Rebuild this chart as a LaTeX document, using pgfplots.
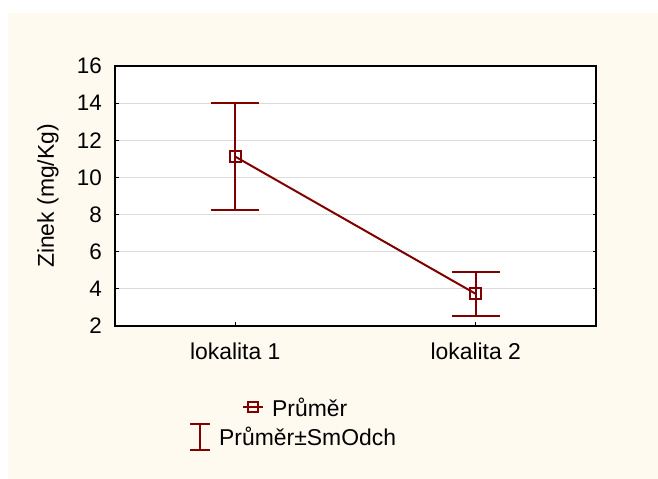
\documentclass[border=0pt]{standalone}
\usepackage{fontspec}
\setmainfont{Liberation Sans}
\usepackage{pgfplots}
\pgfplotsset{compat=1.18}
\definecolor{cream}{HTML}{FFFAF0}
\definecolor{serie}{HTML}{800000}
\definecolor{mrizka}{HTML}{DCDCDC}

\begin{document}
\begin{tikzpicture}[font=\fontsize{23}{27}\selectfont]
% plocha obrazku
\useasboundingbox (0,0) rectangle (658bp,479bp);
\fill[white] (0,0) rectangle (658bp,479bp);
\fill[cream] (8bp,0) rectangle (658bp,466bp);

\begin{axis}[
    at={(115bp,153bp)}, anchor=south west,
    scale only axis,
    width=481bp, height=260bp,
    axis background/.style={fill=white},
    axis line style={line width=2bp, black},
    xmin=0.5, xmax=2.5,
    ymin=2, ymax=16,
    xtick={1,2},
    xticklabels={lokalita 1, lokalita 2},
    ytick={2,4,...,16},
    xtick pos=left,
    tick align=inside,
    major tick length=3.5bp,
    every tick/.style={black, line width=1.2bp},
    ymajorgrids,
    major grid style={mrizka, line width=0.9bp},
    /pgf/number format/assume math mode=true,
    yticklabel style={anchor=east, inner sep=0pt, xshift=-13bp,
        font=\fontsize{22.5}{27}\selectfont},
    xticklabel style={anchor=north, inner sep=0pt, yshift=-17bp},
    ylabel={Zinek (mg/Kg)},
    every axis y label/.style={at={(axis description cs:0,0.5)}, rotate=90,
        anchor=center, yshift=67bp},
]
\addplot[
    serie, line width=2bp,
    mark=square, mark size=5.5bp,
    mark options={solid, line width=2bp},
    error bars/.cd, y dir=both, y explicit,
    error bar style={line width=2bp, serie},
    error mark options={rotate=90, mark size=24bp, line width=2bp, serie},
] coordinates {
    (1, 11.12) +- (0, 2.88)
    (2, 3.73) +- (0, 1.18)
};
\end{axis}

% legenda
\draw[serie, line width=2bp] (243bp,72bp) -- (263bp,72bp);
\draw[serie, line width=1.8bp] (248bp,67bp) rectangle (258bp,77bp);
\node[anchor=base west, inner sep=0pt] at (272bp,62bp) {Průměr};
\draw[serie, line width=2bp] (200bp,29bp) -- (200bp,55bp)
    (190bp,29bp) -- (210bp,29bp) (190bp,55bp) -- (210bp,55bp);
\node[anchor=base west, inner sep=0pt] at (219bp,34bp) {Průměr±SmOdch};
\end{tikzpicture}
\end{document}
